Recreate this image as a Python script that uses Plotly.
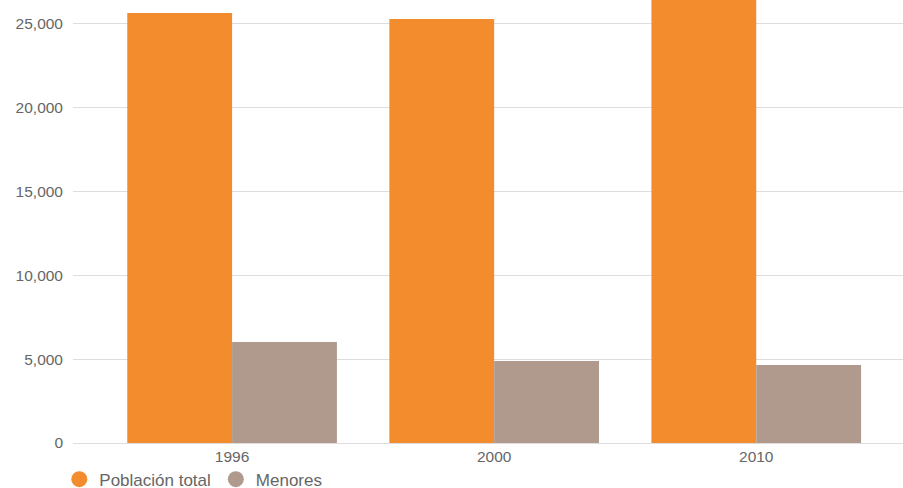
import plotly.graph_objects as go

years = ["1996", "2000", "2010"]
poblacion_total = [25650, 25300, 26600]
menores = [6030, 4890, 4650]
y_ticks = [0, 5000, 10000, 15000, 20000, 25000]
y_tick_labels = ["0", "5,000", "10,000", "15,000", "20,000", "25,000"]

ORANGE = "#F28C2D"
GRAY = "#B09A8E"

fig = go.Figure()
fig.add_trace(go.Bar(x=years, y=poblacion_total, name="Población total",
                     marker=dict(color=ORANGE, line=dict(width=0)), showlegend=False))
fig.add_trace(go.Bar(x=years, y=menores, name="Menores",
                     marker=dict(color=GRAY, line=dict(width=0)), showlegend=False))
# legend entries with circle markers
fig.add_trace(go.Scatter(x=[None], y=[None], mode="markers", name="Población total",
                         marker=dict(color=ORANGE, size=17, symbol="circle")))
fig.add_trace(go.Scatter(x=[None], y=[None], mode="markers", name="Menores",
                         marker=dict(color=GRAY, size=17, symbol="circle")))

fig.update_layout(
    width=903, height=488,
    margin=dict(l=73, r=0, t=0, b=45, autoexpand=False),
    paper_bgcolor="white", plot_bgcolor="white",
    barmode="group", bargap=0.2, bargroupgap=0,
    font=dict(family="Liberation Sans, Arial, sans-serif", size=15, color="#666"),
    legend=dict(orientation="h", x=-0.0165, xanchor="left", y=-0.042, yanchor="top",
                font=dict(size=17, color="#666"), itemsizing="trace",
                traceorder="normal", itemwidth=30),
)
fig.update_xaxes(type="category", range=[-0.607, 2.56], showgrid=False, showline=False,
                 ticks="", ticklabelstandoff=2,
                 tickfont=dict(size=15.5, color="#666"), fixedrange=True)
fig.update_yaxes(range=[0, 26430], tickvals=y_ticks, ticktext=y_tick_labels,
                 showgrid=True, gridcolor="#DDDDDD", gridwidth=1, zeroline=True,
                 zerolinecolor="#DDDDDD", zerolinewidth=1,
                 ticks="", ticklabelstandoff=9,
                 tickfont=dict(size=15.5, color="#666"), fixedrange=True)

fig.write_html("out.html", config={"displayModeBar": False},
               post_script="document.body.style.margin='0';document.body.style.overflow='hidden';")
